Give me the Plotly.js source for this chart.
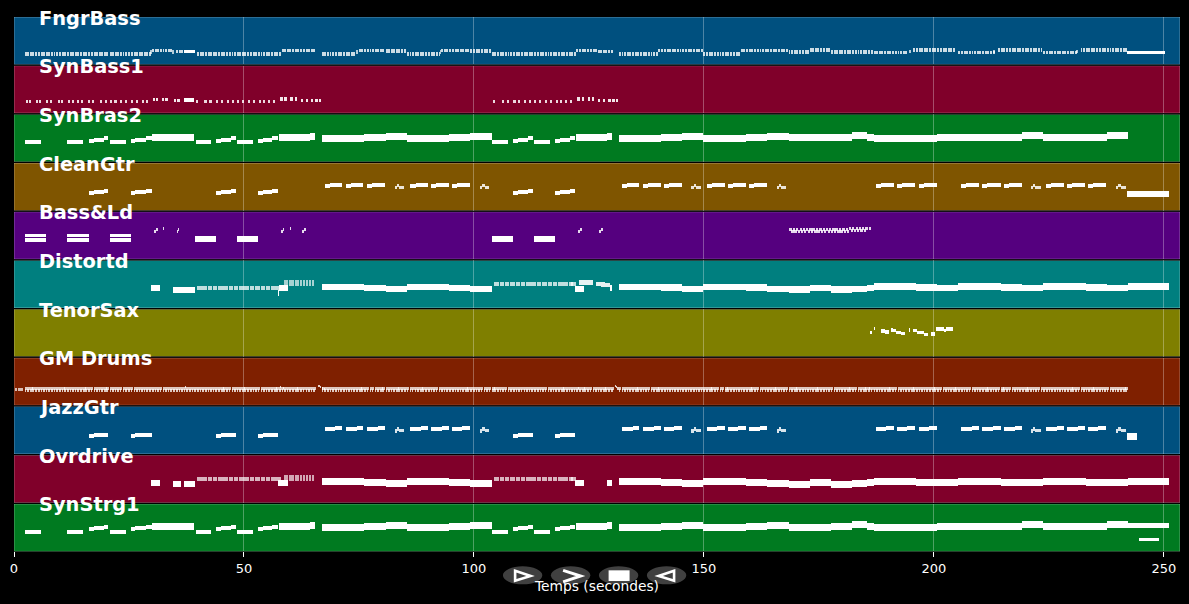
<!DOCTYPE html>
<html><head><meta charset="utf-8">
<script src="https://cdn.plot.ly/plotly-3.0.1.min.js"></script>
<style>html,body{margin:0;padding:0;background:#000;overflow:hidden}</style>
</head><body><div id="chart" style="width:1189px;height:604px"></div>
<script>
// ---------- DATA (seconds; level = pitch height read inside each track lane) ----------
const trackNames = ['FngrBass','SynBass1','SynBras2','CleanGtr','Bass&Ld','Distortd','TenorSax','GM Drums','JazzGtr','Ovrdrive','SynStrg1'];
const trackColors = ['#00507f','#80002a','#007a20','#7f5500','#55007f','#007f7f','#7f7f00','#7f2000','#00507f','#80002a','#007a20'];
const tickValues = [0,50,100,150,200,250];

const pulseTimes = [2.3,2.9,3.5,4.0,4.6,5.2,5.8,6.3,6.9,7.5,8.1,8.6,9.2,9.8,10.4,10.9,11.5,12.1,12.7,13.2,13.8,14.4,15.0,15.5,16.1,16.7,17.3,17.8,18.4,19.0,19.6,20.1,20.8,21.3,21.9,22.5,23.0,23.6,24.2,24.8,25.4,26.0,26.5,27.1,27.7,28.2,28.8,29.4,30.0,30.6,31.1,31.7,32.3,32.9,33.4,34.0,34.6,35.2,35.8,36.3,36.9,37.5,38.1,38.6,39.2,39.8,40.4,40.9,41.5,42.1,42.7,43.2,43.8,44.4,45.0,45.5,46.1,46.7,47.3,47.8,48.4,49.0,49.6,50.1,50.7,51.3,51.9,52.4,53.0,53.6,54.2,54.7,55.3,55.9,56.5,57.0,57.6,58.2,58.8,59.3,59.9,60.5,61.1,61.6,62.2,62.8,63.4,63.9,64.5,65.1,
66.9,67.5,68.1,68.6,69.2,69.8,70.4,70.9,71.5,72.1,72.7,73.2,73.8,74.4,75.0,75.5,76.1,76.7,77.3,77.8,78.4,79.0,79.6,80.1,80.8,81.3,81.9,82.5,83.1,83.6,84.2,84.8,85.4,86.0,86.5,87.1,87.7,88.3,88.8,89.4,90.0,90.6,91.1,91.7,92.3,92.9,93.4,94.0,94.6,95.2,95.8,96.3,96.9,97.5,98.1,98.6,99.2,99.8,100.4,100.9,101.5,102.1,102.7,103.2,103.9,104.4,105.0,105.6,106.2,106.7,107.3,107.9,108.5,109.1,109.6,110.2,110.8,111.4,111.9,112.5,113.1,113.7,114.3,114.8,115.4,116.0,116.6,117.1,117.7,118.3,118.9,119.4,120.0,120.6,121.2,121.7,122.3,122.9,123.5,124.0,124.6,125.2,125.8,126.3,126.9,127.5,128.1,128.6,129.2,129.8,
131.5,132.1,132.7,133.2,133.8,134.4,135.0,135.5,136.1,136.7,137.3,137.8,138.4,139.0,139.6,140.1,140.7,141.3,141.9,142.4,143.0,143.6,144.2,144.7,145.3,145.9,146.5,147.0,147.6,148.2,148.8,149.3,149.9,150.5,151.1,151.6,152.2,152.8,153.4,153.9,154.6,155.1,155.7,156.3,156.9,157.4,158.0,158.6,159.2,159.8,160.3,160.9,161.5,162.1,162.6,163.2,163.8,164.4,165.0,165.5,166.1,166.7,167.3,167.8,168.4,169.0,169.6,170.1,170.7,171.3,171.9,172.4,173.0,173.6,174.2,174.7,175.3,175.9,176.5,177.0,177.6,178.2,178.8,179.3,179.9,180.5,181.1,181.6,182.3,182.8,183.4,184.0,184.6,185.1,185.7,186.3,186.9,187.5,188.0,188.6,189.2,189.8,190.3,190.9,191.5,192.1,192.7,193.2,193.8,194.4,195.0,195.5,196.1,196.7,197.3,197.8,198.4,199.0,199.6,200.1,200.7,201.3,201.9,202.4,203.0,203.6,204.2,204.7,205.3,205.9,206.5,207.0,207.6,208.2,208.8,209.3,209.9,210.5,211.1,211.6,212.2,212.8,213.4,213.9,214.6,215.1,215.7,216.3,216.9,217.4,218.0,218.6,219.2,219.8,220.3,220.9,221.5,222.1,222.6,223.2,223.8,224.4,225.0,225.5,226.1,226.7,227.3,227.8,228.4,229.0,229.6,230.1,230.7,231.3,231.9,232.4,233.0,233.6,234.2,234.7,235.3,235.9,236.5,237.0,237.6,238.2,238.8,239.3,239.9,240.5,241.1,241.6];

// FngrBass: which pulses sit at which pitch: [from, to, level]
const bassSections = [[2.3,29.8,10.4],[30,34.2,14.3],[35,36.9,12.7],[39.5,57.7,10.4],[57.9,62.4,14.3],[62.6,65.4,13.6],[66.9,74,10.4],[74.9,80.2,14.2],[80.8,85,13.4],[85.4,92.5,10.4],[92.9,98.8,14.2],[99.2,103.5,13.4],[103.9,121.8,10.4],[122.3,126.4,14.3],[126.9,129.9,13.0],[131.5,139.7,10.4],[140,149.5,14.3],[149.9,157.5,10.4],[158,168,14.3],[168.4,172.5,12.4],[173,177,14.5],[177.6,186.4,12.5],[186.9,194,11.7],[195.3,204.4,14.5],[205.3,212.9,12],[213.9,223.3,14.5],[223.8,231,12],[231.6,241.9,14.5]];
const bassLong = [[37.0,39.4,12.7],[241.9,250.2,11.7]];
const bassGrace = [[29.6,30,12.5],[34.3,34.7,12.5],[74.3,74.7,12.5],[92.6,92.9,12.5],[194.6,195,12.8],[212.9,213.3,12.8],[231,231.4,12.8]];

const synBass1Low = [[2.5,11.4],[3.2,11.4],[4.7,11.4],[5.5,11.4],[7.0,11.4],[7.9,11.4],[9.5,11.4],[10.3,11.4],[11.7,11.4],[12.65,11.4],[13.7,11.4],[14.6,11.4],[16.05,11.4],[17,11.4],[18.6,11.4],[19.7,11.4],[20.9,11.4],[21.85,11.4],[23.1,11.4],[24.1,11.4],[25.5,11.4],[26.6,11.4],[27.8,11.4],[28.7,11.4],[39.6,11.4],[41.4,11.4],[42.5,11.4],[44,11.4],[45,11.4],[46.3,11.4],[47.4,11.4],[48.45,11.4],[49.5,11.4],[50.85,11.4],[51.9,11.4],[53.2,11.4],[54.1,11.4],[55.2,11.4],[56.3,11.4],[104.2,11.4],[106,11.4],[107.1,11.4],[108.6,11.4],[109.6,11.4],[110.9,11.4],[112,11.4],[113,11.4],[114.1,11.4],[115.4,11.4],[116.5,11.4],[117.8,11.4],[118.7,11.4],[119.8,11.4],[120.9,11.4]];
const synBass1High = [[30.2,13.9],[30.9,13.9],[32.1,13.9],[32.9,13.9],[34.7,12.9],[35.5,12.9],[57.9,14.2],[58.8,14.2],[60.1,14.2],[61,14.2],[62.4,12.9],[63.5,12.9],[64.6,12.9],[65.5,12.9],[66.3,12.9],[122.5,14.2],[123.4,14.2],[124.7,14.2],[125.6,14.2],[127,12.9],[128.1,12.9],[129.2,12.9],[130.1,12.9],[130.9,12.9]];
const synBass1Long = [[37.0,39.2,13.2]];

const chordStarts = [29.9,34.5,57.7,64.3,66.9,71.5,76.1,80.8,85.4,90.0,94.6,99.2,122.3,129.0,131.5,136.1,140.7,145.3,149.9,154.6,159.2,163.8,168.4,173.0,177.6,182.3,185.5,186.9,191.5,196.1,200.7,205.3,209.9,214.6,219.2,223.8,228.4,233.0,237.6];
const chordEnds   = [34.5,39.1,64.3,65.5,71.5,76.1,80.8,85.4,90.0,94.6,99.2,103.9,129.0,130.0,136.1,140.7,145.3,149.9,154.6,159.2,163.8,168.4,173.0,177.6,182.3,185.5,186.9,191.5,196.1,200.7,205.3,209.9,214.6,219.2,223.8,228.4,233.0,237.6,242.2];
const bras2Levels = [24.4,24.4,24.4,25.1,23.6,23.6,24.4,25.1,23.6,23.6,24.4,25.1,24.4,25.1,23.6,23.6,24.4,25.1,23.6,23.6,24.4,25.1,24.0,24.0,24.4,26.1,24.6,23.1,23.1,23.1,24.4,24.4,24.4,24.4,26.1,24.1,24.1,24.4,26.1];
const strg1Levels = [24.7,24.7,24.7,25.4,23.8,23.8,24.6,25.4,23.8,23.8,24.6,25.4,24.7,25.4,23.8,23.8,24.6,25.4,23.8,23.8,24.6,25.4,24.3,24.3,24.7,26.4,24.9,23.4,23.4,23.4,24.7,24.7,24.7,24.7,26.4,24.4,24.4,24.7,26.4];
const brassPhrases = [[2.3,5.9,19.8],[11.5,15.0,19.8],[16.3,17.3,21.1],[17.3,19.5,22.1],[19.5,20.5,23.4],[20.8,24.4,19.8],[25.4,26.4,21.1],[26.4,28.7,22.1],[28.7,29.9,23.4],[39.5,42.9,19.8],[44.0,45.0,21.1],[45.0,47.2,22.1],[47.2,48.2,23.4],[48.5,51.9,19.8],[53.1,54.1,21.1],[54.1,56.2,22.1],[56.2,57.4,23.4],[104.0,107.4,19.8],[108.6,109.6,21.1],[109.6,111.8,22.1],[111.8,112.8,23.4],[113.1,116.5,19.8],[117.7,118.7,21.1],[118.7,120.8,22.1],[120.8,122.0,23.4]];
const strg1Extra = [[242.2,251.1,25.7]];
const strg1Thin = [[244.5,249.0,11.7]];

const leadStarts = [66.9,71.5,76.1,80.8,85.4,90.0,94.6,99.2,131.5,136.1,140.7,145.3,149.9,154.6,159.2,163.8,168.4,173.0,177.6,182.3,185.5,186.9,191.5,196.1,200.7,205.3,209.9,214.6,219.2,223.8,228.4,233.0,237.6,242.2];
const leadEnds   = [71.5,76.1,80.8,85.4,90.0,94.6,99.2,103.9,136.1,140.7,145.3,149.9,154.6,159.2,163.8,168.4,173.0,177.6,182.3,185.5,186.9,191.5,196.1,200.7,205.3,209.9,214.6,219.2,223.8,228.4,233.0,237.6,242.2,251.1];
const leadLevels = [20.9,20.9,19.9,18.9,20.9,20.9,19.9,18.9,20.9,20.9,20.3,18.9,20.9,20.9,20.3,18.9,18.2,19.9,18.2,18.9,19.9,21.5,21.5,20.5,19.9,21.5,21.5,20.3,19.9,21.5,21.5,20.4,19.9,21.5];
const padFirst = [39.8,40.9,42.1,43.2,44.4,45.5,46.7,47.8,49.0,50.1,51.3,52.4,53.6,54.7,55.9,57.0];
const padSecond = [104.4,105.6,106.7,107.9,109.1,110.2,111.4,112.5,113.7,114.8,116.0,117.1,118.3,119.4,120.6,121.2];
const padCluster = [[58.8,59.5],[59.9,60.9],[61.0,61.9],[62.2,62.7],[62.9,63.3],[63.5,64.0],[64.1,64.5],[64.7,65.2]];
const distortdBlocks = [[29.8,31.8,19.5],[34.5,39.4,18.2],[57.4,57.7,15.2],[57.7,59.5,19.9],[122.0,124.0,18.9],[129.5,130.1,20.0]];
const distortdUpper = [[122.8,123.7,25.5],[123.7,125.8,25.2],[126.6,127.6,23.9],[127.6,128.6,23.3],[128.6,129.5,22.7]];
const ovrdriveBlocks = [[29.8,31.8,19.7],[34.5,36.3,18.3],[36.9,39.4,18.3],[57.4,59.5,19.7],[122.0,124.0,19.7],[129.0,130.0,19.2]];

const guitarNotes = [[16.3,17.3,17.6],[17.3,19.5,18.6],[19.5,20.5,19.4],[25.4,26.4,17.6],[26.4,28.7,18.6],[28.7,29.9,19.4],[44.0,45.0,17.6],[45.0,47.2,18.6],[47.2,48.2,19.4],[53.1,54.1,17.6],[54.1,56.2,18.6],[56.2,57.4,19.4],[108.6,109.6,17.6],[109.6,111.8,18.6],[111.8,112.8,19.4],[117.7,118.7,17.6],[118.7,120.8,18.6],[120.8,122.0,19.4],
[67.6,68.7,24.5],[68.7,69.9,25.3],[69.9,71.3,25.8],[72.2,73.3,24.5],[73.3,74.5,25.3],[74.5,75.9,25.8],[76.8,77.9,24.5],[77.9,79.1,25.3],[79.1,80.7,25.8],[86.2,87.3,24.5],[87.3,88.5,25.3],[88.5,90.0,25.8],[90.7,91.8,24.5],[91.8,93.0,25.3],[93.0,94.5,25.8],[95.2,96.3,24.5],[96.3,97.5,25.3],[97.5,99.1,25.8],[132.2,133.3,24.5],[133.3,134.5,25.3],[134.5,136.0,25.8],[136.8,137.9,24.5],[137.9,139.1,25.3],[139.1,140.6,25.8],[141.3,142.4,24.5],[142.4,143.6,25.3],[143.6,145.2,25.8],[150.6,151.7,24.5],[151.7,152.9,25.3],[152.9,154.5,25.8],[155.2,156.3,24.5],[156.3,157.5,25.3],[157.5,159.1,25.8],[159.8,160.9,24.5],[160.9,162.1,25.3],[162.1,163.7,25.8],[187.4,188.5,24.5],[188.5,189.7,25.3],[189.7,191.4,25.8],[191.9,193.0,24.5],[193.0,194.2,25.3],[194.2,195.9,25.8],[196.7,197.8,24.5],[197.8,199.0,25.3],[199.0,200.6,25.8],[205.9,207.0,24.5],[207.0,208.2,25.3],[208.2,209.8,25.8],[210.5,211.6,24.5],[211.6,212.8,25.3],[212.8,214.5,25.8],[215.3,216.4,24.5],[216.4,217.6,25.3],[217.6,219.1,25.8],[224.4,225.5,24.5],[225.5,226.7,25.3],[226.7,228.3,25.8],[229.0,230.1,24.5],[230.1,231.3,25.3],[231.3,232.9,25.8],[233.5,234.6,24.5],[234.6,235.8,25.3],[235.8,237.5,25.8]];
const guitarClusters = [[82.8,83.3,22.8],[83.3,83.8,24.8],[83.8,84.9,23.2],[101.3,101.8,22.8],[101.8,102.3,24.8],[102.3,103.2,23.2],[147.3,147.8,22.8],[147.8,148.3,24.8],[148.3,149.4,23.2],[165.8,166.3,22.8],[166.3,166.8,24.8],[166.8,167.9,23.2],[221.1,221.6,22.8],[221.6,222.1,24.8],[222.1,223.2,23.2],[239.6,240.1,22.8],[240.1,240.6,24.8],[240.6,241.7,23.2]];
const cleanFinal = [[241.9,251.1,16.8]];
const jazzFinal = [[242.0,244.2,17.3]];

const bassLdDoubleUpper = [[2.3,7.0,23.5],[11.5,16.3,23.5],[20.8,25.5,23.5]];
const bassLdDoubleLower = [[2.3,7.0,19.0],[11.5,16.3,19.0],[20.8,25.5,19.0]];
const bassLdBlocks = [[39.3,44.0,20.5],[48.4,53.1,20.5],[103.9,108.6,20.5],[113.0,117.7,20.5]];
const bassLdSmall = [[30.5,30.9,27.5],[30.9,31.2,30],[32.4,32.6,30.5],[35.4,35.7,27.5],[35.7,35.9,30],[58.1,58.5,27.5],[58.5,58.8,29.5],[60,60.2,30.5],[62.6,63,27.5],[63,63.4,30],[122.7,123.1,27.5],[123.1,123.4,29.5],[124.7,124.9,30.5],[127.3,127.7,27.5],[127.7,128,30]];
const trillUpper = [168.6,169.3,170.0,170.8,171.5,172.2,172.9,173.6,174.3,175.1,175.8,176.5,177.2,177.9,178.6,179.4,180.1,180.8];
const trillLower = [169.0,169.7,170.4,171.1,171.8,172.6,173.3,174.0,174.7,175.4,176.1,176.9,177.6,178.3,179.0,179.7,180.4,181.1];
const trillHighUpper = [181.5,182.2,183.0,183.7,184.4,185.1,185.8];
const trillHighLower = [181.9,182.6,183.3,184.0,184.8];

const saxNotes = [[186.2,186.6,24.2],[186.9,187.2,27.9],[188.5,189.4,25.6],[189.4,190.2,24.6],[190.7,191.1,26.6],[191.1,191.8,26.1],[191.8,192.9,24.2],[192.9,193.7,22.9],[194.6,194.9,26.6],[195.4,196.3,26.2],[196.3,197.8,24.2],[197.8,198.7,22.2],[199.4,200.3,22.6],[200.5,202.1,27.6],[202.1,202.7,25.9],[202.7,204.2,27.6]];

const drumEarly = [0.2,0.8,1.4];
const drumFills = [[66.2,19.0],[66.5,18.0],[66.9,17.0],[67.3,16.5],[130.6,19.0],[130.9,18.0],[131.2,17.0],[37.1,18.0],[57.8,18.0],[58.4,17.5],[122.6,17.5],[185.9,17.5]];

// ---------- LAYOUT CONSTANTS ----------
const W = 1189, H = 604, X0 = 14.3, X1 = 1180.5, PLOT_T = 17.3, PLOT_B = 551.7;
const LANE_H = 47.4, LANE_STEP = 48.64;
const plotH = PLOT_B - PLOT_T;
const xMax = (X1 - X0) / 4.6;
const traces = [];

function addNotes(lane, starts, ends, levels, thick, opacity) {
  const axis = lane === 0 ? 'y' : 'y' + (lane + 1);
  traces.push({
    type: 'bar', orientation: 'h', xaxis: 'x', yaxis: axis,
    base: starts, x: ends.map((e, i) => e - starts[i]), y: levels, width: thick,
    marker: { color: 'white', opacity: opacity === undefined ? 1 : opacity, line: { width: 0 } },
    hoverinfo: 'skip', showlegend: false
  });
}
function addTriples(lane, rows, thick, opacity) {
  addNotes(lane, rows.map(r => r[0]), rows.map(r => r[1]), rows.map(r => r[2]), thick, opacity);
}
function addDots(lane, starts, dur, level, thick, opacity) {
  addNotes(lane, starts, starts.map(s => s + dur), starts.map(() => level), thick, opacity);
}

// 0 FngrBass
bassSections.forEach(s => addDots(0, pulseTimes.filter(t => t >= s[0] && t <= s[1]), 0.42, s[2], 3.2, 0.8));
addTriples(0, bassLong, 3.4);
addTriples(0, bassGrace, 3.4, 0.7);
// 1 SynBass1
addDots(1, synBass1Low.map(r => r[0]), 0.46, 11.4, 3.4, 0.85);
addNotes(1, synBass1High.map(r => r[0]), synBass1High.map(r => r[0] + 0.5), synBass1High.map(r => r[1]), 3.4, 0.9);
addTriples(1, synBass1Long, 3.6);
// 2 SynBras2
addNotes(2, chordStarts, chordEnds, bras2Levels, 7);
addTriples(2, brassPhrases, 4);
// 3 CleanGtr
addTriples(3, guitarNotes, 4);
addTriples(3, guitarClusters, 3.4, 0.85);
addTriples(3, cleanFinal, 6.4);
// 4 Bass&Ld
addTriples(4, bassLdDoubleUpper, 3.4);
addTriples(4, bassLdDoubleLower, 3.6);
addTriples(4, bassLdBlocks, 6.4);
addTriples(4, bassLdSmall, 3, 0.85);
addDots(4, trillUpper, 0.5, 30, 3, 0.85);
addDots(4, trillLower, 0.5, 27.5, 3, 0.85);
addDots(4, trillHighUpper, 0.5, 31, 3, 0.85);
addDots(4, trillHighLower, 0.5, 28.5, 3, 0.85);
// 5 Distortd
addNotes(5, leadStarts, leadEnds, leadLevels, 6.6);
addDots(5, padFirst, 0.98, 19.9, 3.4, 0.75);
addDots(5, padSecond, 0.98, 23.9, 3.4, 0.75);
addTriples(5, distortdBlocks, 6);
addTriples(5, distortdUpper, 4.4, 0.9);
addNotes(5, padCluster.map(r => r[0]), padCluster.map(r => r[1]), padCluster.map(() => 24.9), 5.4, 0.65);
// 6 TenorSax
addTriples(6, saxNotes, 3.4);
// 7 GM Drums
addDots(7, drumEarly, 0.45, 16.1, 2.8, 0.7);
addDots(7, pulseTimes.filter(t => t < 242), 0.58, 16.8, 3, 0.75);
addDots(7, pulseTimes.filter(t => t < 242), 0.36, 14.6, 3, 0.75);
addNotes(7, drumFills.map(r => r[0]), drumFills.map(r => r[0] + 0.3), drumFills.map(r => r[1]), 2.4, 0.8);
// 8 JazzGtr
addTriples(8, guitarNotes, 4);
addTriples(8, guitarClusters, 3.4, 0.85);
addTriples(8, jazzFinal, 6.4);
// 9 Ovrdrive
addNotes(9, leadStarts, leadEnds, leadLevels, 6.8);
addDots(9, padFirst, 0.98, 23.7, 3.4, 0.7);
addDots(9, padSecond, 0.98, 23.7, 3.4, 0.7);
addTriples(9, ovrdriveBlocks, 6);
addNotes(9, padCluster.map(r => r[0]), padCluster.map(r => r[1]), padCluster.map(() => 24.7), 5.4, 0.65);
// 10 SynStrg1
addNotes(10, chordStarts, chordEnds, strg1Levels, 7);
addTriples(10, brassPhrases.map(r => [r[0], r[1], r[2] < 20 ? 19.4 : r[2] + 1]), 4);
addTriples(10, strg1Extra, 5);
addTriples(10, strg1Thin, 3);

const layout = {
  width: W, height: H, paper_bgcolor: '#000', plot_bgcolor: '#000',
  margin: { l: X0, r: W - X1, t: PLOT_T, b: H - PLOT_B, pad: 0 },
  barmode: 'overlay', showlegend: false, bargap: 0,
  font: { family: 'DejaVu Sans', color: 'white', size: 13 },
  xaxis: {
    range: [0, xMax], anchor: 'y11', tickmode: 'array', tickvals: tickValues, ticktext: tickValues.map(String),
    ticks: 'outside', ticklen: 5, tickwidth: 1, tickcolor: 'white',
    tickfont: { family: 'DejaVu Sans', size: 13, color: 'white' },
    showgrid: true, gridcolor: 'rgba(255,255,255,0.3)', gridwidth: 1, zeroline: false, showline: false,
    title: { text: 'Temps (secondes)', font: { family: 'DejaVu Sans', size: 13.8, color: 'white' }, standoff: 6 },
    fixedrange: true, automargin: false
  },
  shapes: [], annotations: []
};

trackNames.forEach((name, i) => {
  const key = i === 0 ? 'yaxis' : 'yaxis' + (i + 1);
  const ref = i === 0 ? 'y' : 'y' + (i + 1);
  const top = i * LANE_STEP, bottom = top + LANE_H;
  layout[key] = {
    domain: [1 - bottom / plotH, 1 - top / plotH], range: [0, LANE_H], anchor: 'x',
    visible: false, fixedrange: true, showgrid: false, zeroline: false
  };
  layout.shapes.push({
    type: 'rect', xref: 'x', yref: ref, x0: 0, x1: xMax, y0: 0, y1: LANE_H, layer: 'below',
    fillcolor: trackColors[i], line: { color: 'rgba(255,255,255,0.35)', width: 1 }
  });
  layout.annotations.push({
    text: name, xref: 'x', yref: ref, x: 5.0, y: LANE_H, xanchor: 'left', yanchor: 'middle', showarrow: false, yshift: -1,
    font: { family: 'DejaVu Sans', size: 19.4, color: 'white', weight: 700 }
  });
});

// Transport buttons below the axis
const px = x => (x - X0) / (X1 - X0);
const py = y => (PLOT_B - y) / plotH;
const path = (pts, close) => pts.map((p, i) => (i ? 'L' : 'M') + px(p[0]) + ',' + py(p[1])).join(' ') + (close ? ' Z' : '');
[523, 571, 619, 667].forEach(cx => layout.shapes.push({
  type: 'circle', xref: 'paper', yref: 'paper', x0: px(cx - 19.7), x1: px(cx + 19.7), y0: py(584), y1: py(566),
  fillcolor: '#404040', line: { width: 0 }, layer: 'above'
}));
layout.shapes.push(
  { type: 'path', xref: 'paper', yref: 'paper', layer: 'above', path: path([[515.5, 570.5], [531, 575.6], [515.5, 580.5]], true), line: { color: 'white', width: 2.6 }, fillcolor: 'rgba(0,0,0,0)' },
  { type: 'path', xref: 'paper', yref: 'paper', layer: 'above', path: path([[563.5, 570], [581, 575.7], [563.5, 581.5]], false), line: { color: 'white', width: 3 }, fillcolor: 'rgba(0,0,0,0)' },
  { type: 'rect', xref: 'paper', yref: 'paper', layer: 'above', x0: px(609), x1: px(630), y0: py(580.7), y1: py(570), fillcolor: 'white', line: { width: 0 } },
  { type: 'path', xref: 'paper', yref: 'paper', layer: 'above', path: path([[674.5, 570.5], [659, 575.6], [674.5, 580.5]], true), line: { color: 'white', width: 2.6 }, fillcolor: 'rgba(0,0,0,0)' }
);

Plotly.newPlot('chart', traces, layout, { displayModeBar: false, staticPlot: true });
</script></body></html>
